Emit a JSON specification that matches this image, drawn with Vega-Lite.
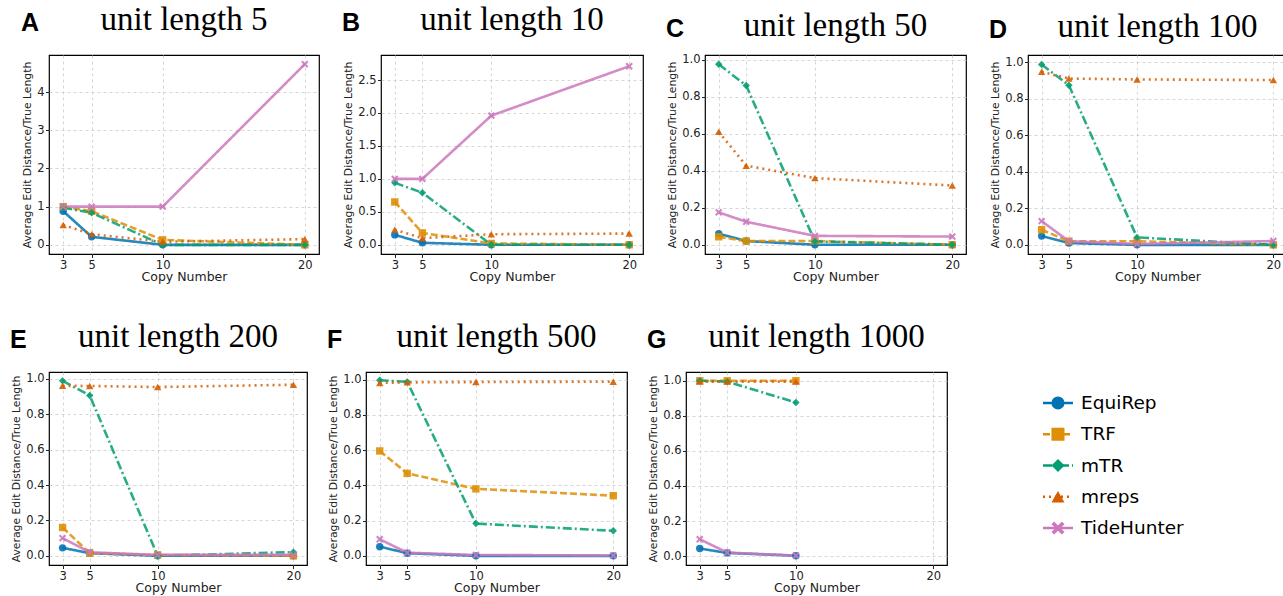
{
"$schema": "https://vega.github.io/schema/vega-lite/v6.json",
"padding": {"left": 10, "top": 3, "right": 0, "bottom": 0},
"background": "white",
"config": {
  "view": {"stroke": "black", "strokeWidth": 1.2},
  "axis": {"labelFont": "DejaVu Sans", "titleFont": "DejaVu Sans", "labelFontSize": 11.5, "titleFontWeight": "normal", "labelColor": "#222", "titleColor": "#222", "domain": false, "tickColor": "#222", "tickSize": 3.5, "labelPadding": 1.5, "grid": true, "gridDash": [3, 3], "gridColor": "#cccccc", "gridWidth": 0.8, "minExtent": 0},
  "axisX": {"titleFontSize": 12.5, "labelAngle": 0, "titlePadding": 0},
  "axisY": {"titleFontSize": 10.8, "titlePadding": 4},
  "title": {"font": "Liberation Serif", "fontSize": 33, "fontWeight": "normal", "color": "black"},
  "legend": {"disable": true}
},
"datasets": {"d": [
{"panel":"A","method":"EquiRep","copies":3,"value":0.88},{"panel":"A","method":"EquiRep","copies":5,"value":0.21},{"panel":"A","method":"EquiRep","copies":10,"value":0.0},{"panel":"A","method":"EquiRep","copies":20,"value":0.0},
{"panel":"A","method":"TRF","copies":3,"value":1.0},{"panel":"A","method":"TRF","copies":5,"value":0.88},{"panel":"A","method":"TRF","copies":10,"value":0.13},{"panel":"A","method":"TRF","copies":20,"value":0.0},
{"panel":"A","method":"mTR","copies":3,"value":0.97},{"panel":"A","method":"mTR","copies":5,"value":0.84},{"panel":"A","method":"mTR","copies":10,"value":0.0},{"panel":"A","method":"mTR","copies":20,"value":0.0},
{"panel":"A","method":"mreps","copies":3,"value":0.52},{"panel":"A","method":"mreps","copies":5,"value":0.28},{"panel":"A","method":"mreps","copies":10,"value":0.08},{"panel":"A","method":"mreps","copies":20,"value":0.15},
{"panel":"A","method":"TideHunter","copies":3,"value":1.0},{"panel":"A","method":"TideHunter","copies":5,"value":1.0},{"panel":"A","method":"TideHunter","copies":10,"value":1.0},{"panel":"A","method":"TideHunter","copies":20,"value":4.73},

{"panel":"B","method":"EquiRep","copies":3,"value":0.15},{"panel":"B","method":"EquiRep","copies":5,"value":0.03},{"panel":"B","method":"EquiRep","copies":10,"value":0.0},{"panel":"B","method":"EquiRep","copies":20,"value":0.0},
{"panel":"B","method":"TRF","copies":3,"value":0.65},{"panel":"B","method":"TRF","copies":5,"value":0.18},{"panel":"B","method":"TRF","copies":10,"value":0.02},{"panel":"B","method":"TRF","copies":20,"value":0.0},
{"panel":"B","method":"mTR","copies":3,"value":0.94},{"panel":"B","method":"mTR","copies":5,"value":0.79},{"panel":"B","method":"mTR","copies":10,"value":0.0},{"panel":"B","method":"mTR","copies":20,"value":0.0},
{"panel":"B","method":"mreps","copies":3,"value":0.23},{"panel":"B","method":"mreps","copies":5,"value":0.1},{"panel":"B","method":"mreps","copies":10,"value":0.16},{"panel":"B","method":"mreps","copies":20,"value":0.17},
{"panel":"B","method":"TideHunter","copies":3,"value":1.0},{"panel":"B","method":"TideHunter","copies":5,"value":1.0},{"panel":"B","method":"TideHunter","copies":10,"value":1.96},{"panel":"B","method":"TideHunter","copies":20,"value":2.71},

{"panel":"C","method":"EquiRep","copies":3,"value":0.06},{"panel":"C","method":"EquiRep","copies":5,"value":0.02},{"panel":"C","method":"EquiRep","copies":10,"value":0.0},{"panel":"C","method":"EquiRep","copies":20,"value":0.0},
{"panel":"C","method":"TRF","copies":3,"value":0.043},{"panel":"C","method":"TRF","copies":5,"value":0.02},{"panel":"C","method":"TRF","copies":10,"value":0.02},{"panel":"C","method":"TRF","copies":20,"value":0.0},
{"panel":"C","method":"mTR","copies":3,"value":0.975},{"panel":"C","method":"mTR","copies":5,"value":0.86},{"panel":"C","method":"mTR","copies":10,"value":0.018},{"panel":"C","method":"mTR","copies":20,"value":0.0},
{"panel":"C","method":"mreps","copies":3,"value":0.61},{"panel":"C","method":"mreps","copies":5,"value":0.427},{"panel":"C","method":"mreps","copies":10,"value":0.36},{"panel":"C","method":"mreps","copies":20,"value":0.32},
{"panel":"C","method":"TideHunter","copies":3,"value":0.175},{"panel":"C","method":"TideHunter","copies":5,"value":0.124},{"panel":"C","method":"TideHunter","copies":10,"value":0.048},{"panel":"C","method":"TideHunter","copies":20,"value":0.044},

{"panel":"D","method":"EquiRep","copies":3,"value":0.048},{"panel":"D","method":"EquiRep","copies":5,"value":0.01},{"panel":"D","method":"EquiRep","copies":10,"value":0.0},{"panel":"D","method":"EquiRep","copies":20,"value":0.0},
{"panel":"D","method":"TRF","copies":3,"value":0.083},{"panel":"D","method":"TRF","copies":5,"value":0.02},{"panel":"D","method":"TRF","copies":10,"value":0.02},{"panel":"D","method":"TRF","copies":20,"value":0.0},
{"panel":"D","method":"mTR","copies":3,"value":0.988},{"panel":"D","method":"mTR","copies":5,"value":0.874},{"panel":"D","method":"mTR","copies":10,"value":0.041},{"panel":"D","method":"mTR","copies":20,"value":0.0},
{"panel":"D","method":"mreps","copies":3,"value":0.948},{"panel":"D","method":"mreps","copies":5,"value":0.911},{"panel":"D","method":"mreps","copies":10,"value":0.906},{"panel":"D","method":"mreps","copies":20,"value":0.903},
{"panel":"D","method":"TideHunter","copies":3,"value":0.13},{"panel":"D","method":"TideHunter","copies":5,"value":0.02},{"panel":"D","method":"TideHunter","copies":10,"value":0.005},{"panel":"D","method":"TideHunter","copies":20,"value":0.021},

{"panel":"E","method":"EquiRep","copies":3,"value":0.045},{"panel":"E","method":"EquiRep","copies":5,"value":0.015},{"panel":"E","method":"EquiRep","copies":10,"value":0.0},{"panel":"E","method":"EquiRep","copies":20,"value":0.0},
{"panel":"E","method":"TRF","copies":3,"value":0.16},{"panel":"E","method":"TRF","copies":5,"value":0.015},{"panel":"E","method":"TRF","copies":10,"value":0.005},{"panel":"E","method":"TRF","copies":20,"value":0.0},
{"panel":"E","method":"mTR","copies":3,"value":0.989},{"panel":"E","method":"mTR","copies":5,"value":0.906},{"panel":"E","method":"mTR","copies":10,"value":0.0},{"panel":"E","method":"mTR","copies":20,"value":0.021},
{"panel":"E","method":"mreps","copies":3,"value":0.961},{"panel":"E","method":"mreps","copies":5,"value":0.96},{"panel":"E","method":"mreps","copies":10,"value":0.954},{"panel":"E","method":"mreps","copies":20,"value":0.967},
{"panel":"E","method":"TideHunter","copies":3,"value":0.1},{"panel":"E","method":"TideHunter","copies":5,"value":0.02},{"panel":"E","method":"TideHunter","copies":10,"value":0.005},{"panel":"E","method":"TideHunter","copies":20,"value":0.005},

{"panel":"F","method":"EquiRep","copies":3,"value":0.052},{"panel":"F","method":"EquiRep","copies":5,"value":0.015},{"panel":"F","method":"EquiRep","copies":10,"value":0.0},{"panel":"F","method":"EquiRep","copies":20,"value":0.0},
{"panel":"F","method":"TRF","copies":3,"value":0.595},{"panel":"F","method":"TRF","copies":5,"value":0.468},{"panel":"F","method":"TRF","copies":10,"value":0.38},{"panel":"F","method":"TRF","copies":20,"value":0.341},
{"panel":"F","method":"mTR","copies":3,"value":0.996},{"panel":"F","method":"mTR","copies":5,"value":0.987},{"panel":"F","method":"mTR","copies":10,"value":0.183},{"panel":"F","method":"mTR","copies":20,"value":0.142},
{"panel":"F","method":"mreps","copies":3,"value":0.981},{"panel":"F","method":"mreps","copies":5,"value":0.984},{"panel":"F","method":"mreps","copies":10,"value":0.986},{"panel":"F","method":"mreps","copies":20,"value":0.988},
{"panel":"F","method":"TideHunter","copies":3,"value":0.094},{"panel":"F","method":"TideHunter","copies":5,"value":0.018},{"panel":"F","method":"TideHunter","copies":10,"value":0.005},{"panel":"F","method":"TideHunter","copies":20,"value":0.002},

{"panel":"G","method":"EquiRep","copies":3,"value":0.043},{"panel":"G","method":"EquiRep","copies":5,"value":0.018},{"panel":"G","method":"EquiRep","copies":10,"value":0.002},
{"panel":"G","method":"TRF","copies":3,"value":1.0},{"panel":"G","method":"TRF","copies":5,"value":1.0},{"panel":"G","method":"TRF","copies":10,"value":1.0},
{"panel":"G","method":"mTR","copies":3,"value":1.0},{"panel":"G","method":"mTR","copies":5,"value":0.995},{"panel":"G","method":"mTR","copies":10,"value":0.876},
{"panel":"G","method":"mreps","copies":3,"value":0.995},{"panel":"G","method":"mreps","copies":5,"value":0.995},{"panel":"G","method":"mreps","copies":10,"value":0.995},
{"panel":"G","method":"TideHunter","copies":3,"value":0.096},{"panel":"G","method":"TideHunter","copies":5,"value":0.02},{"panel":"G","method":"TideHunter","copies":10,"value":0.003}
]},
"columns": 1,
"align": "none",
"spacing": 36,
"concat": [
{"spacing": 22, "hconcat": [
 {"title": {"text": "A", "anchor": "start", "frame": "bounds", "font": "Liberation Sans", "fontSize": 25, "fontWeight": "bold", "offset": -33},
  "vconcat": [{
   "width": 270, "height": 199,
   "title": {"text": "unit length 5", "offset": 18},
   "data": {"name": "d"}, "transform": [{"filter": "datum.panel === 'A'"}],
   "encoding": {
     "x": {"field": "copies", "type": "quantitative", "scale": {"domain": [2, 21], "nice": false, "zero": false}, "axis": {"values": [3, 5, 10, 20], "title": "Copy Number"}},
     "y": {"field": "value", "type": "quantitative", "scale": {"domain": [-0.24, 4.97], "nice": false, "zero": false}, "axis": {"values": [0, 1, 2, 3, 4], "format": "d", "title": "Average Edit Distance/True Length"}},
     "color": {"field": "method", "type": "nominal", "legend": null, "scale": {"domain": ["EquiRep", "TRF", "mTR", "mreps", "TideHunter"], "range": ["#0173b2", "#de8f05", "#029e73", "#d55e00", "#cc78bc"]}}
   },
   "layer": [
     {"mark": {"type": "line", "strokeWidth": 2.6, "opacity": 0.85}, "encoding": {"strokeDash": {"field": "method", "type": "nominal", "scale": {"domain": ["EquiRep", "TRF", "mTR", "mreps", "TideHunter"], "range": [[1, 0], [7, 3], [9, 3, 2, 3], [2, 4], [1, 0]]}, "legend": null}}},
     {"mark": {"type": "point", "filled": true, "size": 55, "opacity": 0.9}, "encoding": {"shape": {"field": "method", "type": "nominal", "legend": null, "scale": {"domain": ["EquiRep", "TRF", "mTR", "mreps", "TideHunter"], "range": ["circle", "square", "diamond", "triangle-up", "M-1,-0.6L-0.6,-1L0,-0.4L0.6,-1L1,-0.6L0.4,0L1,0.6L0.6,1L0,0.4L-0.6,1L-1,0.6L-0.4,0Z"]}}}}
   ]
  }]},
 {"title": {"text": "B", "anchor": "start", "frame": "bounds", "font": "Liberation Sans", "fontSize": 25, "fontWeight": "bold", "offset": -33},
  "vconcat": [{
   "width": 262, "height": 199,
   "title": {"text": "unit length 10", "offset": 18},
   "data": {"name": "d"}, "transform": [{"filter": "datum.panel === 'B'"}],
   "encoding": {
     "x": {"field": "copies", "type": "quantitative", "scale": {"domain": [2, 21], "nice": false, "zero": false}, "axis": {"values": [3, 5, 10, 20], "title": "Copy Number"}},
     "y": {"field": "value", "type": "quantitative", "scale": {"domain": [-0.14, 2.88], "nice": false, "zero": false}, "axis": {"values": [0, 0.5, 1, 1.5, 2, 2.5], "format": ".1f", "title": "Average Edit Distance/True Length"}},
     "color": {"field": "method", "type": "nominal", "legend": null, "scale": {"domain": ["EquiRep", "TRF", "mTR", "mreps", "TideHunter"], "range": ["#0173b2", "#de8f05", "#029e73", "#d55e00", "#cc78bc"]}}
   },
   "layer": [
     {"mark": {"type": "line", "strokeWidth": 2.6, "opacity": 0.85}, "encoding": {"strokeDash": {"field": "method", "type": "nominal", "scale": {"domain": ["EquiRep", "TRF", "mTR", "mreps", "TideHunter"], "range": [[1, 0], [7, 3], [9, 3, 2, 3], [2, 4], [1, 0]]}, "legend": null}}},
     {"mark": {"type": "point", "filled": true, "size": 55, "opacity": 0.9}, "encoding": {"shape": {"field": "method", "type": "nominal", "legend": null, "scale": {"domain": ["EquiRep", "TRF", "mTR", "mreps", "TideHunter"], "range": ["circle", "square", "diamond", "triangle-up", "M-1,-0.6L-0.6,-1L0,-0.4L0.6,-1L1,-0.6L0.4,0L1,0.6L0.6,1L0,0.4L-0.6,1L-1,0.6L-0.4,0Z"]}}}}
   ]
  }]},
 {"title": {"text": "C", "anchor": "start", "frame": "bounds", "font": "Liberation Sans", "fontSize": 25, "fontWeight": "bold", "offset": -33},
  "vconcat": [{
   "width": 261, "height": 199,
   "title": {"text": "unit length 50", "offset": 11},
   "data": {"name": "d"}, "transform": [{"filter": "datum.panel === 'C'"}],
   "encoding": {
     "x": {"field": "copies", "type": "quantitative", "scale": {"domain": [2, 21], "nice": false, "zero": false}, "axis": {"values": [3, 5, 10, 20], "title": "Copy Number"}},
     "y": {"field": "value", "type": "quantitative", "scale": {"domain": [-0.05, 1.025], "nice": false, "zero": false}, "axis": {"values": [0, 0.2, 0.4, 0.6, 0.8, 1], "format": ".1f", "title": "Average Edit Distance/True Length"}},
     "color": {"field": "method", "type": "nominal", "legend": null, "scale": {"domain": ["EquiRep", "TRF", "mTR", "mreps", "TideHunter"], "range": ["#0173b2", "#de8f05", "#029e73", "#d55e00", "#cc78bc"]}}
   },
   "layer": [
     {"mark": {"type": "line", "strokeWidth": 2.6, "opacity": 0.85}, "encoding": {"strokeDash": {"field": "method", "type": "nominal", "scale": {"domain": ["EquiRep", "TRF", "mTR", "mreps", "TideHunter"], "range": [[1, 0], [7, 3], [9, 3, 2, 3], [2, 4], [1, 0]]}, "legend": null}}},
     {"mark": {"type": "point", "filled": true, "size": 55, "opacity": 0.9}, "encoding": {"shape": {"field": "method", "type": "nominal", "legend": null, "scale": {"domain": ["EquiRep", "TRF", "mTR", "mreps", "TideHunter"], "range": ["circle", "square", "diamond", "triangle-up", "M-1,-0.6L-0.6,-1L0,-0.4L0.6,-1L1,-0.6L0.4,0L1,0.6L0.6,1L0,0.4L-0.6,1L-1,0.6L-0.4,0Z"]}}}}
   ]
  }]},
 {"title": {"text": "D", "anchor": "start", "frame": "bounds", "font": "Liberation Sans", "fontSize": 25, "fontWeight": "bold", "offset": -33},
  "vconcat": [{
   "width": 259, "height": 199,
   "title": {"text": "unit length 100", "offset": 11},
   "data": {"name": "d"}, "transform": [{"filter": "datum.panel === 'D'"}],
   "encoding": {
     "x": {"field": "copies", "type": "quantitative", "scale": {"domain": [2, 21], "nice": false, "zero": false}, "axis": {"values": [3, 5, 10, 20], "title": "Copy Number"}},
     "y": {"field": "value", "type": "quantitative", "scale": {"domain": [-0.05, 1.04], "nice": false, "zero": false}, "axis": {"values": [0, 0.2, 0.4, 0.6, 0.8, 1], "format": ".1f", "title": "Average Edit Distance/True Length"}},
     "color": {"field": "method", "type": "nominal", "legend": null, "scale": {"domain": ["EquiRep", "TRF", "mTR", "mreps", "TideHunter"], "range": ["#0173b2", "#de8f05", "#029e73", "#d55e00", "#cc78bc"]}}
   },
   "layer": [
     {"mark": {"type": "line", "strokeWidth": 2.6, "opacity": 0.85}, "encoding": {"strokeDash": {"field": "method", "type": "nominal", "scale": {"domain": ["EquiRep", "TRF", "mTR", "mreps", "TideHunter"], "range": [[1, 0], [7, 3], [9, 3, 2, 3], [2, 4], [1, 0]]}, "legend": null}}},
     {"mark": {"type": "point", "filled": true, "size": 55, "opacity": 0.9}, "encoding": {"shape": {"field": "method", "type": "nominal", "legend": null, "scale": {"domain": ["EquiRep", "TRF", "mTR", "mreps", "TideHunter"], "range": ["circle", "square", "diamond", "triangle-up", "M-1,-0.6L-0.6,-1L0,-0.4L0.6,-1L1,-0.6L0.4,0L1,0.6L0.6,1L0,0.4L-0.6,1L-1,0.6L-0.4,0Z"]}}}}
   ]
  }]}
]},
{"spacing": 19, "hconcat": [
 {"title": {"text": "E", "anchor": "start", "frame": "bounds", "font": "Liberation Sans", "fontSize": 25, "fontWeight": "bold", "offset": -33},
  "vconcat": [{
   "width": 258, "height": 193,
   "title": {"text": "unit length 200", "offset": 18},
   "data": {"name": "d"}, "transform": [{"filter": "datum.panel === 'E'"}],
   "encoding": {
     "x": {"field": "copies", "type": "quantitative", "scale": {"domain": [2, 21], "nice": false, "zero": false}, "axis": {"values": [3, 5, 10, 20], "title": "Copy Number"}},
     "y": {"field": "value", "type": "quantitative", "scale": {"domain": [-0.052, 1.039], "nice": false, "zero": false}, "axis": {"values": [0, 0.2, 0.4, 0.6, 0.8, 1], "format": ".1f", "title": "Average Edit Distance/True Length"}},
     "color": {"field": "method", "type": "nominal", "legend": null, "scale": {"domain": ["EquiRep", "TRF", "mTR", "mreps", "TideHunter"], "range": ["#0173b2", "#de8f05", "#029e73", "#d55e00", "#cc78bc"]}}
   },
   "layer": [
     {"mark": {"type": "line", "strokeWidth": 2.6, "opacity": 0.85}, "encoding": {"strokeDash": {"field": "method", "type": "nominal", "scale": {"domain": ["EquiRep", "TRF", "mTR", "mreps", "TideHunter"], "range": [[1, 0], [7, 3], [9, 3, 2, 3], [2, 4], [1, 0]]}, "legend": null}}},
     {"mark": {"type": "point", "filled": true, "size": 55, "opacity": 0.9}, "encoding": {"shape": {"field": "method", "type": "nominal", "legend": null, "scale": {"domain": ["EquiRep", "TRF", "mTR", "mreps", "TideHunter"], "range": ["circle", "square", "diamond", "triangle-up", "M-1,-0.6L-0.6,-1L0,-0.4L0.6,-1L1,-0.6L0.4,0L1,0.6L0.6,1L0,0.4L-0.6,1L-1,0.6L-0.4,0Z"]}}}}
   ]
  }]},
 {"title": {"text": "F", "anchor": "start", "frame": "bounds", "font": "Liberation Sans", "fontSize": 25, "fontWeight": "bold", "offset": -33},
  "vconcat": [{
   "width": 261, "height": 193,
   "title": {"text": "unit length 500", "offset": 18},
   "data": {"name": "d"}, "transform": [{"filter": "datum.panel === 'F'"}],
   "encoding": {
     "x": {"field": "copies", "type": "quantitative", "scale": {"domain": [2, 21], "nice": false, "zero": false}, "axis": {"values": [3, 5, 10, 20], "title": "Copy Number"}},
     "y": {"field": "value", "type": "quantitative", "scale": {"domain": [-0.052, 1.043], "nice": false, "zero": false}, "axis": {"values": [0, 0.2, 0.4, 0.6, 0.8, 1], "format": ".1f", "title": "Average Edit Distance/True Length"}},
     "color": {"field": "method", "type": "nominal", "legend": null, "scale": {"domain": ["EquiRep", "TRF", "mTR", "mreps", "TideHunter"], "range": ["#0173b2", "#de8f05", "#029e73", "#d55e00", "#cc78bc"]}}
   },
   "layer": [
     {"mark": {"type": "line", "strokeWidth": 2.6, "opacity": 0.85}, "encoding": {"strokeDash": {"field": "method", "type": "nominal", "scale": {"domain": ["EquiRep", "TRF", "mTR", "mreps", "TideHunter"], "range": [[1, 0], [7, 3], [9, 3, 2, 3], [2, 4], [1, 0]]}, "legend": null}}},
     {"mark": {"type": "point", "filled": true, "size": 55, "opacity": 0.9}, "encoding": {"shape": {"field": "method", "type": "nominal", "legend": null, "scale": {"domain": ["EquiRep", "TRF", "mTR", "mreps", "TideHunter"], "range": ["circle", "square", "diamond", "triangle-up", "M-1,-0.6L-0.6,-1L0,-0.4L0.6,-1L1,-0.6L0.4,0L1,0.6L0.6,1L0,0.4L-0.6,1L-1,0.6L-0.4,0Z"]}}}}
   ]
  }]},
 {"title": {"text": "G", "anchor": "start", "frame": "bounds", "font": "Liberation Sans", "fontSize": 25, "fontWeight": "bold", "offset": -33},
  "vconcat": [{
   "width": 261, "height": 193,
   "title": {"text": "unit length 1000", "offset": 18},
   "data": {"name": "d"}, "transform": [{"filter": "datum.panel === 'G'"}],
   "encoding": {
     "x": {"field": "copies", "type": "quantitative", "scale": {"domain": [2, 21], "nice": false, "zero": false}, "axis": {"values": [3, 5, 10, 20], "title": "Copy Number"}},
     "y": {"field": "value", "type": "quantitative", "scale": {"domain": [-0.051, 1.05], "nice": false, "zero": false}, "axis": {"values": [0, 0.2, 0.4, 0.6, 0.8, 1], "format": ".1f", "title": "Average Edit Distance/True Length"}},
     "color": {"field": "method", "type": "nominal", "legend": null, "scale": {"domain": ["EquiRep", "TRF", "mTR", "mreps", "TideHunter"], "range": ["#0173b2", "#de8f05", "#029e73", "#d55e00", "#cc78bc"]}}
   },
   "layer": [
     {"mark": {"type": "line", "strokeWidth": 2.6, "opacity": 0.85}, "encoding": {"strokeDash": {"field": "method", "type": "nominal", "scale": {"domain": ["EquiRep", "TRF", "mTR", "mreps", "TideHunter"], "range": [[1, 0], [7, 3], [9, 3, 2, 3], [2, 4], [1, 0]]}, "legend": null}}},
     {"mark": {"type": "point", "filled": true, "size": 55, "opacity": 0.9}, "encoding": {"shape": {"field": "method", "type": "nominal", "legend": null, "scale": {"domain": ["EquiRep", "TRF", "mTR", "mreps", "TideHunter"], "range": ["circle", "square", "diamond", "triangle-up", "M-1,-0.6L-0.6,-1L0,-0.4L0.6,-1L1,-0.6L0.4,0L1,0.6L0.6,1L0,0.4L-0.6,1L-1,0.6L-0.4,0Z"]}}}}
   ]
  }]},
 {
   "width": 230, "height": 187,
   "view": {"stroke": null},
   "data": {"name": "d"}, "transform": [{"filter": "datum.panel === 'A' && datum.copies === 3"}],
   "encoding": {
     "y": {"field": "method", "type": "nominal", "axis": null, "scale": {"domain": ["EquiRep", "TRF", "mTR", "mreps", "TideHunter"], "paddingInner": 0, "paddingOuter": 0.49}},
     "color": {"field": "method", "type": "nominal", "legend": null, "scale": {"domain": ["EquiRep", "TRF", "mTR", "mreps", "TideHunter"], "range": ["#0173b2", "#de8f05", "#029e73", "#d55e00", "#cc78bc"]}}
   },
   "layer": [
     {"mark": {"type": "rule", "strokeWidth": 2.6},
      "encoding": {
        "x": {"datum": 0, "type": "quantitative", "scale": {"domain": [-2.533, 5.134], "nice": false, "zero": false}, "axis": null},
        "x2": {"datum": 1},
        "strokeDash": {"field": "method", "type": "nominal", "scale": {"domain": ["EquiRep", "TRF", "mTR", "mreps", "TideHunter"], "range": [[1, 0], [7, 3], [9, 3, 2, 3], [2, 4], [1, 0]]}, "legend": null}}},
     {"mark": {"type": "point", "filled": true, "size": 170, "opacity": 1},
      "encoding": {
        "x": {"datum": 0.5, "type": "quantitative"},
        "shape": {"field": "method", "type": "nominal", "legend": null, "scale": {"domain": ["EquiRep", "TRF", "mTR", "mreps", "TideHunter"], "range": ["circle", "square", "diamond", "triangle-up", "M-1,-0.6L-0.6,-1L0,-0.4L0.6,-1L1,-0.6L0.4,0L1,0.6L0.6,1L0,0.4L-0.6,1L-1,0.6L-0.4,0Z"]}}}},
     {"mark": {"type": "text", "align": "left", "baseline": "middle", "font": "DejaVu Sans", "fontSize": 18.5, "color": "black"},
      "encoding": {
        "x": {"datum": 1.27, "type": "quantitative"},
        "text": {"field": "method"},
        "color": {"value": "black"}}}
   ]
 }
]}
]
}
